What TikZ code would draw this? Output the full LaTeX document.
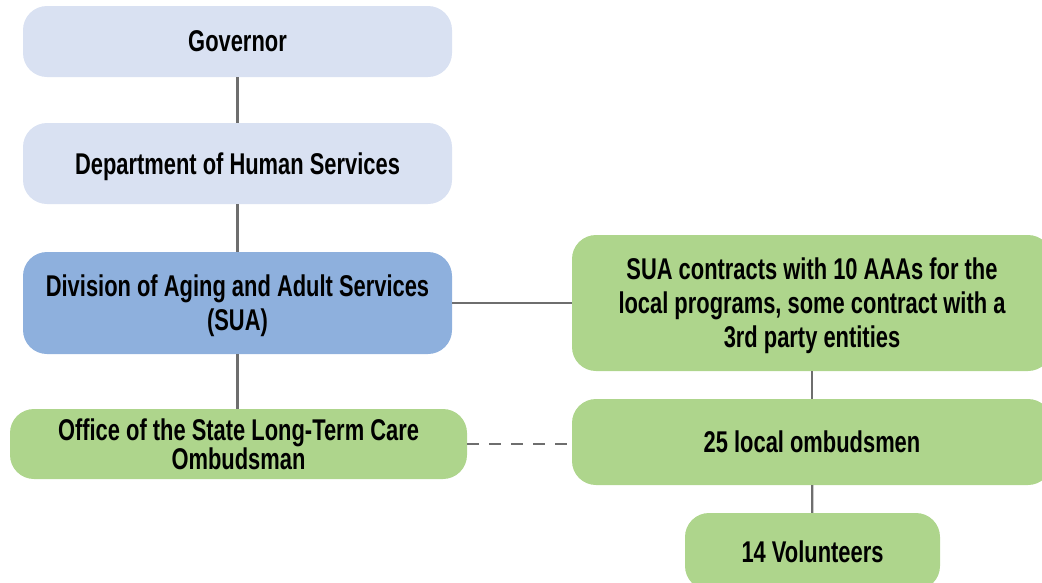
\documentclass[tikz,border=0pt]{standalone}
\usepackage{fontspec}
\setmainfont[FakeStretch=0.73]{Liberation Sans}
\definecolor{paleblue}{HTML}{D9E1F2}
\definecolor{midblue}{HTML}{8EB0DD}
\definecolor{leafgreen}{HTML}{AED58C}
\definecolor{linegray}{HTML}{6E6E6E}
\tikzset{
  box/.style={rounded corners=24pt, align=center, inner sep=0pt, text=black,
    text depth=0pt, font=\bfseries\fontsize{30}{34}\selectfont},
  conn/.style={draw=linegray, line width=2.2pt}
}
\begin{document}
\begin{tikzpicture}[x=1pt,y=-1pt]
    \useasboundingbox (0,0) rectangle (1042,582);
    \node [box, fill=paleblue, minimum width=429pt, minimum height=71pt] (gov) at (237.5,41.5) {Governor};
    \node [box, fill=paleblue, minimum width=429pt, minimum height=81pt] (dhs) at (237.5,163.5) {Department of Human Services};
    \node [box, fill=midblue, minimum width=429pt, minimum height=102pt] (daas) at (237.5,303) {Division of Aging and Adult Services\\(SUA)};
    \node [box, fill=leafgreen, minimum width=457pt, minimum height=70pt,
      font=\bfseries\fontsize{30}{29}\selectfont] (ltco) at (238.5,444) {Office of the State Long-Term Care\\Ombudsman};
    \node [box, fill=leafgreen, minimum width=480pt, minimum height=136pt] (aaa) at (812,303) {SUA contracts with 10 AAAs for the\\local programs, some contract with a\\3rd party entities};
    \node [box, fill=leafgreen, minimum width=480pt, minimum height=86pt] (local) at (812,442) {25 local ombudsmen};
    \node [box, fill=leafgreen, minimum width=255pt, minimum height=77pt] (vol) at (812.5,551.5) {14 Volunteers};
    \draw [conn] (gov) -- (dhs);
    \draw [conn] (dhs) -- (daas);
    \draw [conn] (daas.south) -- (daas.south |- ltco.north);
    \draw [conn] (daas.east) -- (daas.east -| aaa.west);
    \draw [conn, dash pattern=on 12pt off 10pt] (ltco.east) -- (ltco.east -| local.west);
    \draw [conn] (aaa) -- (local);
    \draw [conn] (local) -- (vol);
  \end{tikzpicture}
\end{document}
